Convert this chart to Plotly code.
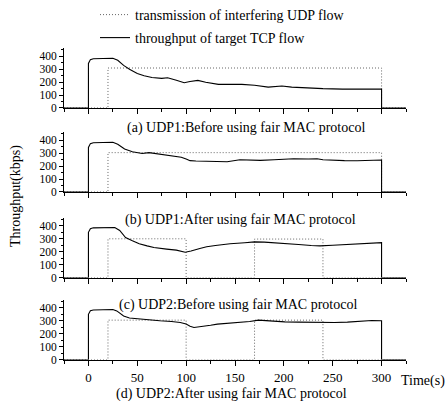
import plotly.graph_objects as go

# ---------------- data ----------------
captions = ["(a) UDP1:Before using fair MAC protocol",
            "(b) UDP1:After using fair MAC protocol",
            "(c) UDP2:Before using fair MAC protocol",
            "(d) UDP2:After using fair MAC protocol"]

udp_name = "transmission of interfering UDP flow"
tcp_name = "throughput of target TCP flow"

x_ticks = [0, 50, 100, 150, 200, 250, 300]
y_ticks = [0, 100, 200, 300, 400]

tcp_t_a = [-25, 0, 0, 2, 5, 15, 25, 30, 36, 42, 50, 57, 65, 75, 81, 90, 98, 104, 112, 120, 133, 157,
           170, 184, 198, 208, 222, 240, 260, 280, 300, 300, 325]
tcp_v_a = [0, 0, 345, 375, 382, 384, 386, 370, 330, 300, 267, 250, 236, 230, 234, 215, 196, 205, 214, 200, 183, 183,
           176, 162, 170, 162, 156, 150, 146, 145, 147, 0, 0]
udp_t_a = [-25, 20, 20, 300, 300, 325]
udp_v_a = [0, 0, 310, 310, 0, 0]

tcp_t_b = [-25, 0, 0, 2, 5, 15, 25, 30, 37, 45, 55, 62, 75, 87, 95, 100, 104, 110, 125, 142, 155, 165,
           176, 190, 210, 225, 234, 240, 250, 262, 275, 290, 300, 300, 325]
tcp_v_b = [0, 0, 345, 375, 382, 384, 386, 370, 333, 312, 298, 305, 290, 280, 270, 255, 243, 240, 240, 235, 250, 245,
           245, 250, 258, 256, 258, 250, 245, 243, 242, 246, 248, 0, 0]
udp_t_b = [-25, 20, 20, 300, 300, 325]
udp_v_b = [0, 0, 305, 305, 0, 0]

tcp_t_c = [-25, 0, 0, 2, 5, 15, 27, 32, 38, 45, 52, 60, 67, 80, 90, 99, 105, 114, 121, 130, 145, 160,
           170, 180, 190, 200, 215, 228, 237, 250, 260, 270, 280, 290, 300, 300, 325]
tcp_v_c = [0, 0, 350, 378, 385, 386, 388, 365, 310, 285, 262, 245, 232, 220, 212, 196, 205, 225, 238, 248, 262, 270,
           276, 274, 270, 266, 256, 248, 245, 250, 253, 258, 262, 266, 270, 0, 0]
udp_t_c = [-25, 20, 20, 100, 100, 170, 170, 240, 240, 325]
udp_v_c = [0, 0, 300, 300, 0, 0, 298, 298, 0, 0]

tcp_t_d = [-25, 0, 0, 2, 5, 15, 25, 29, 33, 36, 42, 53, 62, 73, 85, 94, 100, 104, 108, 115, 125, 132,
           145, 157, 165, 174, 185, 201, 215, 230, 239, 252, 265, 280, 290, 300, 300, 325]
tcp_v_d = [0, 0, 350, 378, 384, 386, 388, 377, 355, 338, 322, 313, 305, 300, 295, 287, 275, 258, 248, 253, 265, 274,
           280, 287, 295, 305, 298, 292, 290, 288, 287, 287, 290, 300, 302, 300, 0, 0]
udp_t_d = [-25, 20, 20, 100, 100, 170, 170, 240, 240, 325]
udp_v_d = [0, 0, 305, 305, 0, 0, 305, 305, 0, 0]

panels = [(tcp_t_a, tcp_v_a, udp_t_a, udp_v_a),
          (tcp_t_b, tcp_v_b, udp_t_b, udp_v_b),
          (tcp_t_c, tcp_v_c, udp_t_c, udp_v_c),
          (tcp_t_d, tcp_v_d, udp_t_d, udp_v_d)]

# ---------------- layout geometry ----------------
W, H = 447, 401
L, R = 64, 41
PW = W - L - R
FONT = "Liberation Serif"
FS = 14
TFS = 13
YFS = 11.5
zero_px = [108, 192, 277.5, 359.5]   # pixel row of y=0 for each panel
YMAX = 465
PX_PER_UNIT = 0.129
caption_px = [(246, 128), (240, 220), (238, 305), (231, 394)]

fig = go.Figure()
layout = dict(
    width=W, height=H,
    margin=dict(l=L, r=R, t=0, b=0, autoexpand=False),
    paper_bgcolor="white", plot_bgcolor="white",
    font=dict(family=FONT, size=FS, color="black"),
)

for i, (tt, tv, ut, uv) in enumerate(panels):
    n = i + 1
    xa = "x" if n == 1 else f"x{n}"
    ya = "y" if n == 1 else f"y{n}"
    fig.add_trace(go.Scatter(x=ut, y=uv, mode="lines", name=udp_name,
                             line=dict(color="#666666", width=1, dash="1px,2px"),
                             xaxis=xa, yaxis=ya, showlegend=(n == 1), legend="legend"))
    fig.add_trace(go.Scatter(x=tt, y=tv, mode="lines", name=tcp_name,
                             line=dict(color="black", width=1.1),
                             xaxis=xa, yaxis=ya, showlegend=(n == 1), legend="legend2"))
    y0 = 1 - zero_px[i] / H
    y1 = 1 - (zero_px[i] - YMAX * PX_PER_UNIT) / H
    xkey = "xaxis" if n == 1 else f"xaxis{n}"
    ykey = "yaxis" if n == 1 else f"yaxis{n}"
    layout[xkey] = dict(domain=[0, 1], anchor=ya, range=[-25, 325],
                        tickvals=x_ticks, showticklabels=(n == 4),
                        ticks="outside", ticklen=5, tickwidth=1, tickcolor="black",
                        minor=dict(dtick=25, tick0=0, ticks="outside", ticklen=3, tickcolor="black"),
                        showline=True, linecolor="black", linewidth=1,
                        showgrid=False, zeroline=False,
                        tickfont=dict(family=FONT, size=TFS),
                        ticklabelstandoff=1)
    layout[ykey] = dict(domain=[y0, y1], anchor=xa, range=[0, YMAX],
                        tickvals=y_ticks, ticks="outside", ticklen=4, tickwidth=1, tickcolor="black",
                        minor=dict(dtick=50, tick0=0, ticks="outside", ticklen=2, tickcolor="black"),
                        showline=True, linecolor="black", linewidth=1,
                        showgrid=False, zeroline=False,
                        tickfont=dict(family=FONT, size=YFS))

leg_x = (95 - L) / PW
layout["legend"] = dict(x=leg_x, y=1 - 15 / H, xanchor="left", yanchor="middle",
                        bgcolor="rgba(0,0,0,0)", font=dict(family=FONT, size=FS))
layout["legend2"] = dict(x=leg_x, y=1 - 38 / H, xanchor="left", yanchor="middle",
                         bgcolor="rgba(0,0,0,0)", font=dict(family=FONT, size=FS))

annotations = []
for i, cap in enumerate(captions):
    cx, cy = caption_px[i]
    annotations.append(dict(text=cap, x=(cx - L) / PW, y=1 - cy / H, xref="paper", yref="paper",
                            xanchor="center", yanchor="middle", showarrow=False,
                            font=dict(family=FONT, size=FS)))
annotations.append(dict(text="Throughput(kbps)", textangle=-90, x=(16 - L) / PW, y=1 - 196 / H,
                        xref="paper", yref="paper", xanchor="center", yanchor="middle",
                        showarrow=False, font=dict(family=FONT, size=FS)))
annotations.append(dict(text="Time(s)", x=(423 - L) / PW, y=1 - 381 / H,
                        xref="paper", yref="paper", xanchor="center", yanchor="middle",
                        showarrow=False, font=dict(family=FONT, size=FS)))
layout["annotations"] = annotations

fig.update_layout(**layout)
fig.write_html("out.html",
               config={"displayModeBar": False},
               post_script="document.body.style.margin='0';document.body.style.padding='0';")
